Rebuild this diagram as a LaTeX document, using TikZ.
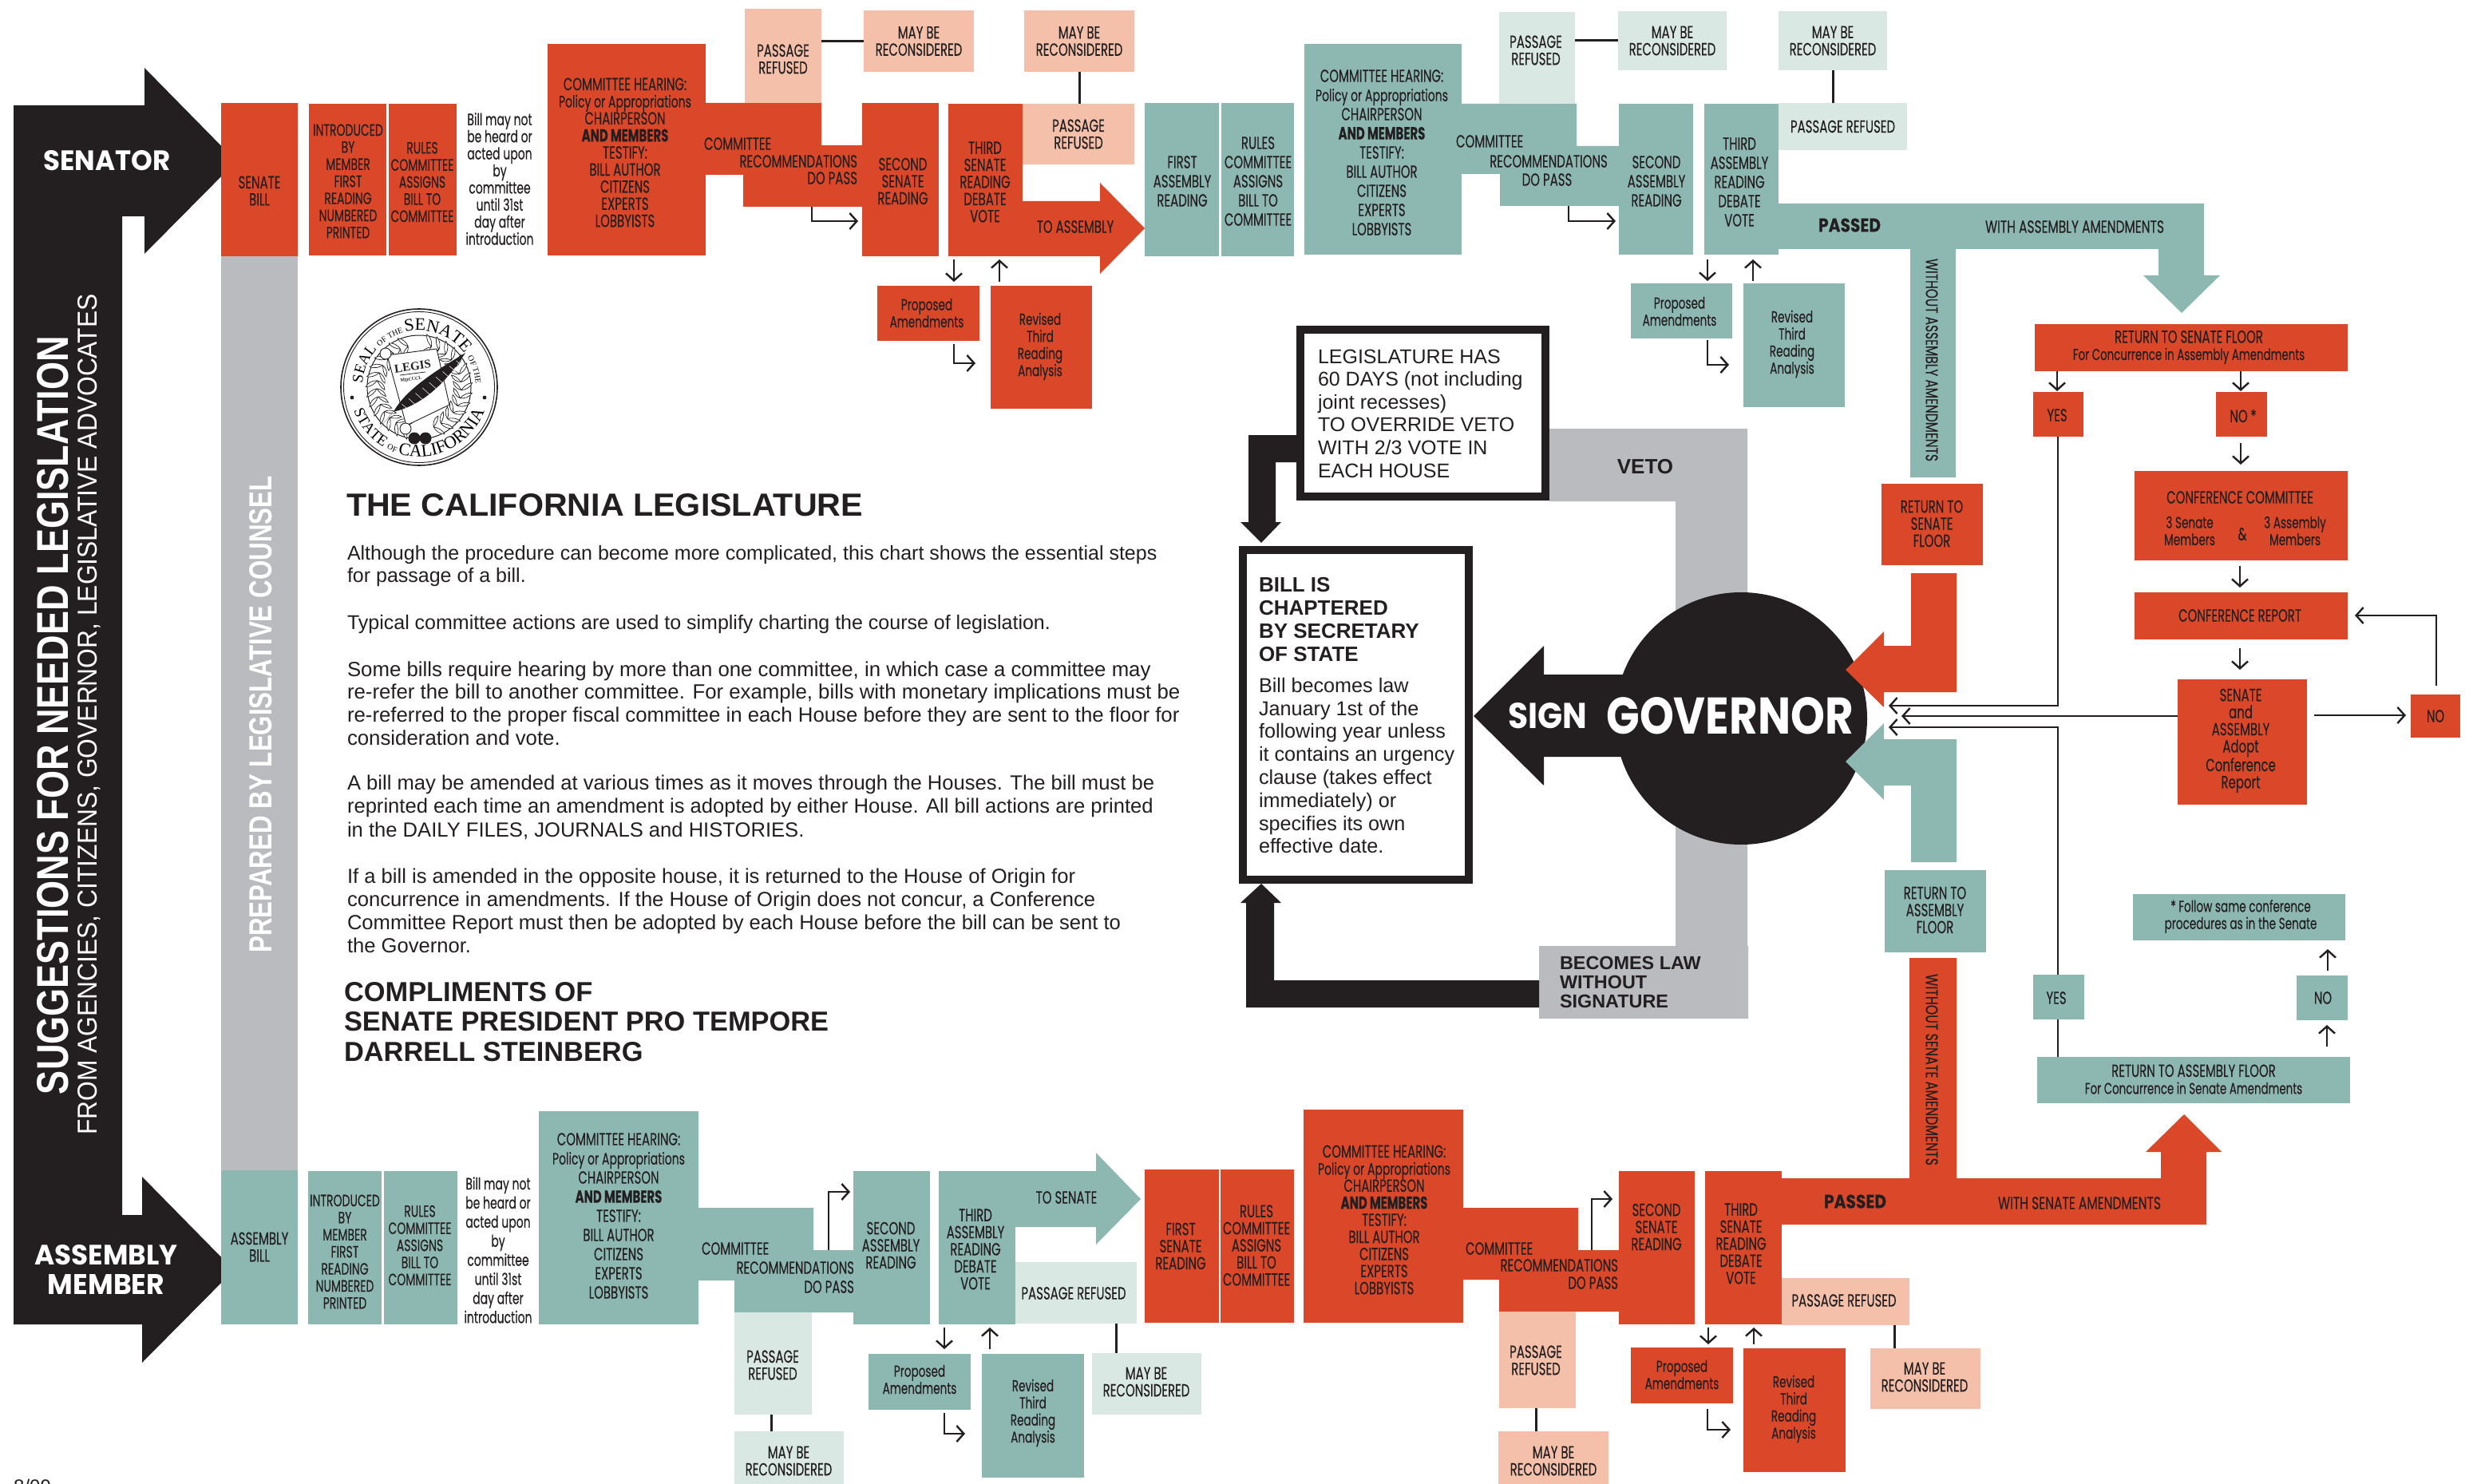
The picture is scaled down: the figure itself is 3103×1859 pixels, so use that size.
\documentclass[tikz,border=0pt]{standalone}
\usepackage{fontspec}
\usepackage{graphicx}
\usetikzlibrary{arrows.meta,calc,decorations.text,shapes.geometric}
\setmainfont{Liberation Sans}
\newfontfamily\fut[FakeStretch=0.68,FakeBold=0.25]{Poppins}
\newfontfamily\futb[FakeStretch=0.68]{Poppins}
\newfontfamily\sealf{Liberation Serif}
\definecolor{ink}{HTML}{231F20}
\definecolor{redb}{HTML}{DA4829}
\definecolor{teal}{HTML}{8DB8B2}
\definecolor{ltteal}{HTML}{DAE8E4}
\definecolor{peach}{HTML}{F4C0A9}
\definecolor{grayb}{HTML}{BABBBF}
\newcommand{\polr}{{\fontsize{20.6}{21}\selectfont Policy or Appropriations}}
\newcommand{\lcs}{\fontsize{19.7}{21}\selectfont}
\tikzset{
 boxn/.style={inner sep=0,outer sep=0,anchor=north west,draw=none},
 txt/.style={inner sep=0,outer sep=0,text=ink,align=center,font=\fut\fontsize{22}{21.4}\selectfont},
 tw/.style={font=\fut\fontsize{22}{24}\selectfont},
 tn/.style={font=\fut\fontsize{20.6}{21.4}\selectfont},
 tnw/.style={font=\fut\fontsize{20.6}{23.9}\selectfont},
 lc/.style={font=\fut\fontsize{20}{21.4}\selectfont},
 lft/.style={align=left,anchor=west},
 rgt/.style={align=right,anchor=east},
 conn/.style={draw=ink,line width=3pt},
 arw/.style={draw=ink,line width=2.6pt,-{Straight Barb[length=9pt,width=20pt,line width=2.4pt]}},
 prose/.style={inner sep=0,outer sep=0,text=ink,align=left,anchor=west,font=\fontsize{25}{28.8}\selectfont},
 head/.style={inner sep=0,outer sep=0,text=ink,align=left,anchor=west,font=\bfseries\fontsize{26}{28.7}\selectfont},
 wlab/.style={inner sep=0,outer sep=0,text=white},
}
\newcommand{\bx}[8][]{%
 \pgfmathsetmacro\bw{#6-#4}\pgfmathsetmacro\bh{#7-#5}%
 \node[boxn,fill=#2,minimum width=\bw pt,minimum height=\bh pt] (#3) at (#4,#5) {};%
 \node[txt,at={(#3.center)},#1] (#3-t) {#8};}
\newcommand{\arr}[5]{\coordinate (#1-a) at (#2,#3);\coordinate (#1-b) at (#4,#5);\draw[arw] (#1-a) -- (#1-b);}
\newcommand{\larr}[7]{\coordinate (#1-a) at (#2,#3);\coordinate (#1-m) at (#4,#5);\coordinate (#1-b) at (#6,#7);\draw[arw] (#1-a) -- (#1-m) -- (#1-b);}
\begin{document}
\begin{tikzpicture}[x=1pt,y=-1pt]
\useasboundingbox (0,0) rectangle (3103,1859);
\fill[white] (0,0) rectangle (3103,1859);
% ---- left big arrow
\fill[ink] (17,132)--(181,132)--(181,85)--(296,202)--(181,318)--(181,271)--(153,271)--(153,1522)--(178,1522)--(178,1474)--(293,1591)--(178,1707)--(178,1659)--(17,1659)--cycle;
\node[wlab] (senator) at (134,201) {\resizebox{159pt}{25pt}{\futb\bfseries SENATOR}};
\node[wlab] (asm1) at (133,1572) {\resizebox{179pt}{25pt}{\futb\bfseries ASSEMBLY}};
\node[wlab] (asm2) at (133,1609) {\resizebox{146pt}{25pt}{\futb\bfseries MEMBER}};
\node[wlab,rotate=90] (sugg) at (66,896) {\resizebox{950pt}{39pt}{\bfseries SUGGESTIONS FOR NEEDED LEGISLATION}};
\node[wlab,rotate=90] (from) at (112,895) {\resizebox{1053pt}{24pt}{FROM AGENCIES, CITIZENS, GOVERNOR, LEGISLATIVE ADVOCATES}};
% ---- grey column
\fill[grayb] (277,321) rectangle (373,1466);
\node[wlab,rotate=90] (prep) at (327,895) {\resizebox{597pt}{28pt}{\bfseries PREPARED BY LEGISLATIVE COUNSEL}};
% ---- senate row bands
\fill[redb] (884,129)--(1029,129)--(1029,182)--(1080,182)--(1080,259)--(931,259)--(931,219)--(884,219)--cycle;
\fill[redb] (1281,252)--(1378,252)--(1378,229)--(1434,286)--(1378,343)--(1378,321)--(1281,321)--cycle;
\fill[teal] (1831,130)--(1975,130)--(1975,183)--(2028,183)--(2028,258)--(1879,258)--(1879,218)--(1831,218)--cycle;
\fill[teal] (2228,255)--(2761,255)--(2761,345)--(2781,345)--(2733,392)--(2685,345)--(2704,345)--(2704,312)--(2450,312)--(2450,598)--(2393,598)--(2393,312)--(2228,312)--cycle;
% ---- assembly row bands
\fill[teal] (875,1513)--(1019,1513)--(1019,1566)--(1069,1566)--(1069,1644)--(920,1644)--(920,1604)--(875,1604)--cycle;
\fill[teal] (1272,1467)--(1373,1467)--(1373,1444)--(1429,1502)--(1373,1559)--(1373,1537)--(1272,1537)--cycle;
\fill[redb] (1833,1513)--(1977,1513)--(1977,1566)--(2028,1566)--(2028,1643)--(1878,1643)--(1878,1603)--(1833,1603)--cycle;
\fill[redb] (2232,1476)--(2392,1476)--(2392,1200)--(2451,1200)--(2451,1476)--(2707,1476)--(2707,1443)--(2688,1443)--(2736,1396)--(2783,1443)--(2764,1443)--(2764,1534)--(2232,1534)--cycle;
% ---- grey veto paths
\fill[grayb] (1941,537)--(2189,537)--(2189,1185)--(2190,1185)--(2190,1276)--(1928,1276)--(1928,1185)--(2099,1185)--(2099,628)--(1941,628)--cycle;
% ---- governor
\fill[ink] (2181,900) circle[radius=158];
\fill[ink] (2040,845)--(1934,845)--(1934,809)--(1846,897)--(1934,984)--(1934,948)--(2040,948)--cycle;
\node[wlab] (sign) at (1939,897) {\resizebox{99pt}{32pt}{\futb\bfseries SIGN}};
\node[wlab] (gov) at (2167,897) {\resizebox{309pt}{46pt}{\futb\bfseries GOVERNOR}};
\fill[redb] (2394,718)--(2451,718)--(2451,867)--(2360,867)--(2360,886)--(2312,839)--(2360,791)--(2360,809)--(2394,809)--cycle;
\fill[teal] (2394,1080)--(2451,1080)--(2451,926)--(2360,926)--(2360,906)--(2312,954)--(2360,1002)--(2360,984)--(2394,984)--cycle;
% ---- senate row, red
\bx[at={(325,239)}]{redb}{sb}{277}{129}{373}{321}{SENATE\\BILL}
\bx[at={(436,227)},tn]{redb}{intro}{387}{130}{484}{320}{INTRODUCED\\BY\\MEMBER\\FIRST\\READING\\NUMBERED\\PRINTED}
\bx[at={(529,228)},tn]{redb}{rules}{487}{130}{572}{320}{RULES\\COMMITTEE\\ASSIGNS\\BILL TO\\COMMITTEE}
\node[txt,tn] (note1) at (626,224) {Bill may not\\be heard or\\acted upon\\by\\committee\\until 31st\\day after\\introduction};
\bx[at={(783,191)}]{redb}{ch}{686}{55}{884}{320}{COMMITTEE HEARING:\\\polr\\CHAIRPERSON\\\textbf{AND MEMBERS}\\TESTIFY:\\BILL AUTHOR\\CITIZENS\\EXPERTS\\LOBBYISTS}
\node[txt,lft] (c1) at (882,180) {COMMITTEE};
\node[txt,rgt] (c2) at (1074,202) {RECOMMENDATIONS};
\node[txt,rgt] (c3) at (1074,223) {DO PASS};
\bx[at={(981,74)}]{peach}{pr1}{933}{11}{1029}{129}{PASSAGE\\REFUSED}
\bx{peach}{mb1}{1082}{13}{1220}{90}{MAY BE\\RECONSIDERED}
\draw[conn] (pr1.east |- mb1.west) -- (mb1.west);
\bx[at={(1131,227)}]{redb}{ss}{1080}{129}{1176}{321}{SECOND\\SENATE\\READING}
\bx[at={(1234,228)}]{redb}{ts}{1188}{130}{1281}{321}{THIRD\\SENATE\\READING\\DEBATE\\VOTE}
\bx{peach}{pr2}{1281}{130}{1421}{206}{PASSAGE\\REFUSED}
\bx{peach}{mb2}{1283}{13}{1421}{90}{MAY BE\\RECONSIDERED}
\draw[conn] (mb2.south) -- (mb2.south |- pr2.north);
\node[txt] (toa) at (1347,284) {TO ASSEMBLY};
\bx[at={(1161,392)},lc]{redb}{pa1}{1099}{358}{1227}{427}{Proposed\\Amendments}
\bx[at={(1303,434)},lc]{redb}{rv1}{1241}{358}{1368}{512}{Revised\\Third\\Reading\\Analysis}
\larr{l1}{1017}{259}{1017}{277}{1075}{277}
\arr{d1}{1195}{325}{1195}{353}
\arr{u1}{1252}{353}{1252}{325}
\larr{l2}{1195}{431}{1195}{455}{1222}{455}
% ---- senate row, teal (assembly house)
\bx[at={(1481,227)},tw]{teal}{fa}{1434}{129}{1527}{321}{FIRST\\ASSEMBLY\\READING}
\bx[at={(1576,227)},tw]{teal}{ra}{1530}{129}{1621}{321}{RULES\\COMMITTEE\\ASSIGNS\\BILL TO\\COMMITTEE}
\bx[at={(1731,191)},tw]{teal}{cha}{1634}{55}{1831}{319}{COMMITTEE HEARING:\\\polr\\CHAIRPERSON\\\textbf{AND MEMBERS}\\TESTIFY:\\BILL AUTHOR\\CITIZENS\\EXPERTS\\LOBBYISTS}
\node[txt,lft] (c4) at (1824,177) {COMMITTEE};
\node[txt] (c5) at (1940,202) {RECOMMENDATIONS};
\node[txt] (c6) at (1938,225) {DO PASS};
\bx[at={(1924,63)}]{ltteal}{pr3}{1878}{15}{1973}{130}{PASSAGE\\REFUSED}
\bx{ltteal}{mb3}{2027}{14}{2163}{88}{MAY BE\\RECONSIDERED}
\draw[conn] (pr3.east |- mb3.west) -- (mb3.west);
\bx[at={(2075,227)},tw]{teal}{sa}{2028}{130}{2121}{319}{SECOND\\ASSEMBLY\\READING}
\bx[at={(2179,228)},tw]{teal}{ta}{2135}{130}{2228}{319}{THIRD\\ASSEMBLY\\READING\\DEBATE\\VOTE}
\bx{ltteal}{pr4}{2228}{129}{2389}{188}{PASSAGE REFUSED}
\bx{ltteal}{mb4}{2228}{14}{2364}{88}{MAY BE\\RECONSIDERED}
\coordinate (mb4s) at (2296,88);\coordinate (pr4n) at (2296,129);
\draw[conn] (mb4s) -- (pr4n);
\node[txt] (pass1) at (2317,282) {\resizebox{78pt}{17pt}{\bfseries PASSED}};
\node[txt] (wa) at (2599,284) {\resizebox{224pt}{15.5pt}{WITH ASSEMBLY AMENDMENTS}};
\node[txt,rotate=-90] (woa) at (2420,451) {\resizebox{254pt}{15pt}{WITHOUT ASSEMBLY AMENDMENTS}};
\bx[at={(2104,390)},lc]{teal}{pa2}{2043}{355}{2170}{424}{Proposed\\Amendments}
\bx[at={(2245,431)},lc]{teal}{rv2}{2184}{355}{2311}{510}{Revised\\Third\\Reading\\Analysis}
\larr{l3}{1965}{258}{1965}{277}{2024}{277}
\arr{d2}{2139}{325}{2139}{352}
\arr{u2}{2196}{352}{2196}{325}
\larr{l4}{2139}{426}{2139}{457}{2166}{457}
% ---- right column
\bx[at={(2742,435)}]{redb}{rsf}{2549}{406}{2941}{465}{RETURN TO SENATE FLOOR\\{\lcs For Concurrence in Assembly Amendments}}
\bx[at={(2577,520)}]{redb}{y1}{2547}{491}{2610}{547}{YES}
\bx[at={(2810,521)}]{redb}{n1}{2776}{491}{2840}{547}{NO\,*}
\bx[at={(2420,656)}]{redb}{rs2}{2357}{606}{2484}{708}{RETURN TO\\SENATE\\FLOOR}
\bx[at={(2806,623)}]{redb}{cc}{2674}{590}{2941}{702}{CONFERENCE COMMITTEE}
\node[txt,lc] (cc1) at (2743,665) {3 Senate\\Members};
\node[txt,lc] (cc2) at (2875,665) {3 Assembly\\Members};
\node[txt] (cc3) at (2809,669) {\&};
\bx[at={(2806,771)}]{redb}{cr}{2674}{742}{2941}{801}{CONFERENCE REPORT}
\bx[at={(2807,928)}]{redb}{sad}{2728}{851}{2890}{1008}{SENATE\\and\\ASSEMBLY\\Adopt\\Conference\\Report}
\bx{redb}{no3}{3020}{870}{3082}{924}{NO}
\bx[at={(2807,1148)},lc]{teal}{fol}{2672}{1120}{2938}{1178}{*\,Follow same conference\\procedures as in the Senate}
\bx[at={(2576,1250)}]{teal}{y2}{2547}{1221}{2611}{1277}{YES}
\bx[at={(2910,1250)}]{teal}{n2}{2877}{1222}{2941}{1278}{NO}
\bx[at={(2748,1352)}]{teal}{raf}{2552}{1324}{2944}{1382}{RETURN TO ASSEMBLY FLOOR\\{\lcs For Concurrence in Senate Amendments}}
\bx[at={(2424,1140)}]{teal}{ra2}{2361}{1090}{2488}{1193}{RETURN TO\\ASSEMBLY\\FLOOR}
\node[txt,rotate=-90] (wos) at (2420,1340) {\resizebox{240pt}{15pt}{WITHOUT SENATE AMENDMENTS}};
\arr{a1}{2577}{465}{2577}{490}
\arr{a2}{2807}{465}{2807}{490}
\arr{a3}{2807}{555}{2807}{582}
\arr{a4}{2806}{709}{2806}{736}
\arr{a5}{2806}{812}{2806}{839}
\arr{a6}{2899}{896}{3014}{896}
\coordinate (nup) at (3052,859);
\coordinate (crin) at (2950,771);
\draw[arw] (nup) |- (crin);
\coordinate (ga) at (2366,884);\coordinate (gb) at (2382,897);\coordinate (gc) at (2366,911);
\coordinate (sj) at (2578,547);\coordinate (tj) at (2578,1221);
\draw[arw] (sj) |- (ga);
\draw[arw] (sad.west |- gb) -- (gb);
\draw[arw] (tj) |- (gc);
\draw[line width=2.6pt,ink] (2578,1277) -- (2578,1324);
\arr{a7}{2915}{1311}{2915}{1284}
\arr{a8}{2916}{1216}{2916}{1189}
% ---- assembly row, teal
\bx[at={(325,1562)}]{teal}{ab}{277}{1466}{373}{1659}{ASSEMBLY\\BILL}
\bx[at={(432,1568)},tn]{teal}{intro2}{386}{1467}{478}{1659}{INTRODUCED\\BY\\MEMBER\\FIRST\\READING\\NUMBERED\\PRINTED}
\bx[at={(526,1560)},tn]{teal}{rules2}{481}{1467}{573}{1659}{RULES\\COMMITTEE\\ASSIGNS\\BILL TO\\COMMITTEE}
\node[txt,tnw] (note2) at (624,1566) {Bill may not\\be heard or\\acted upon\\by\\committee\\until 31st\\day after\\introduction};
\bx[at={(775,1523)},tw]{teal}{ch2}{675}{1392}{875}{1659}{COMMITTEE HEARING:\\\polr\\CHAIRPERSON\\\textbf{AND MEMBERS}\\TESTIFY:\\BILL AUTHOR\\CITIZENS\\EXPERTS\\LOBBYISTS}
\node[txt,lft] (c7) at (879,1564) {COMMITTEE};
\node[txt,rgt] (c8) at (1070,1588) {RECOMMENDATIONS};
\node[txt,rgt] (c9) at (1070,1612) {DO PASS};
\bx[at={(968,1710)}]{ltteal}{pr5}{920}{1644}{1017}{1772}{PASSAGE\\REFUSED}
\bx[at={(988,1830)}]{ltteal}{mb5}{920}{1793}{1057}{1859}{MAY BE\\RECONSIDERED}
\coordinate (p5s) at (966,1772);\coordinate (m5n) at (966,1793);
\draw[conn] (p5s) -- (m5n);
\bx[at={(1116,1560)}]{teal}{sa2}{1069}{1467}{1165}{1659}{SECOND\\ASSEMBLY\\READING}
\bx[at={(1222,1565)}]{teal}{ta2}{1176}{1467}{1272}{1659}{THIRD\\ASSEMBLY\\READING\\DEBATE\\VOTE}
\node[txt] (tos) at (1336,1500) {TO SENATE};
\bx[at={(1345,1620)}]{ltteal}{pr6}{1272}{1581}{1424}{1658}{PASSAGE REFUSED}
\bx[at={(1436,1731)}]{ltteal}{mb6}{1368}{1695}{1505}{1772}{MAY BE\\RECONSIDERED}
\coordinate (p6s) at (1398,1658);\coordinate (m6n) at (1398,1695);
\draw[conn] (p6s) -- (m6n);
\bx[at={(1152,1728)},lc]{teal}{pa3}{1088}{1696}{1216}{1766}{Proposed\\Amendments}
\bx[at={(1294,1770)},lc]{teal}{rv3}{1230}{1696}{1358}{1851}{Revised\\Third\\Reading\\Analysis}
\larr{l5}{1038}{1566}{1038}{1493}{1065}{1493}
\arr{d3}{1183}{1663}{1183}{1690}
\arr{u3}{1240}{1690}{1240}{1663}
\larr{l6}{1183}{1770}{1183}{1796}{1209}{1796}
% ---- assembly row, red
\bx[at={(1479,1561)}]{redb}{fs}{1434}{1465}{1527}{1657}{FIRST\\SENATE\\READING}
\bx[at={(1574,1560)}]{redb}{rs3}{1529}{1465}{1621}{1657}{RULES\\COMMITTEE\\ASSIGNS\\BILL TO\\COMMITTEE}
\bx[at={(1734,1528)}]{redb}{ch3}{1633}{1390}{1833}{1657}{COMMITTEE HEARING:\\\polr\\CHAIRPERSON\\\textbf{AND MEMBERS}\\TESTIFY:\\BILL AUTHOR\\CITIZENS\\EXPERTS\\LOBBYISTS}
\node[txt,lft] (c10) at (1836,1564) {COMMITTEE};
\node[txt,rgt] (c11) at (2027,1585) {RECOMMENDATIONS};
\node[txt,rgt] (c12) at (2027,1607) {DO PASS};
\bx[at={(1924,1704)}]{peach}{pr7}{1878}{1643}{1974}{1764}{PASSAGE\\REFUSED}
\bx[at={(1946,1830)}]{peach}{mb7}{1877}{1793}{2015}{1859}{MAY BE\\RECONSIDERED}
\coordinate (p7s) at (1924,1764);\coordinate (m7n) at (1924,1793);
\draw[conn] (p7s) -- (m7n);
\bx[at={(2075,1537)}]{redb}{ss2}{2028}{1467}{2123}{1659}{SECOND\\SENATE\\READING}
\bx[at={(2181,1558)}]{redb}{ts2}{2136}{1467}{2232}{1659}{THIRD\\SENATE\\READING\\DEBATE\\VOTE}
\bx[at={(2310,1629)}]{peach}{pr8}{2232}{1601}{2392}{1660}{PASSAGE REFUSED}
\bx[at={(2411,1725)}]{peach}{mb8}{2343}{1689}{2481}{1765}{MAY BE\\RECONSIDERED}
\coordinate (p8s) at (2373,1660);\coordinate (m8n) at (2373,1689);
\draw[conn] (p8s) -- (m8n);
\node[txt] (pass2) at (2324,1505) {\resizebox{78pt}{17pt}{\bfseries PASSED}};
\node[txt] (ws) at (2605,1507) {\resizebox{204pt}{15.5pt}{WITH SENATE AMENDMENTS}};
\bx[at={(2107,1722)},lc]{redb}{pa4}{2043}{1688}{2171}{1758}{Proposed\\Amendments}
\bx[at={(2247,1765)},lc]{redb}{rv4}{2184}{1689}{2312}{1844}{Revised\\Third\\Reading\\Analysis}
\larr{l7}{1994}{1566}{1994}{1502}{2020}{1502}
\arr{d4}{2140}{1663}{2140}{1684}
\arr{u4}{2197}{1684}{2197}{1663}
\larr{l8}{2139}{1765}{2139}{1791}{2168}{1791}
% ---- central boxes
\fill[ink] (1624,545)--(1564,545)--(1564,654)--(1554,654)--(1580,680)--(1605,654)--(1598,654)--(1598,579)--(1624,579)--cycle;
\fill[ink] (1928,1228)--(1596,1228)--(1596,1131)--(1605,1131)--(1580,1107)--(1554,1131)--(1561,1131)--(1561,1262)--(1928,1262)--cycle;
\node[boxn,fill=white,draw=ink,line width=10.5pt,minimum width=307pt,minimum height=209pt] (leg) at (1629,413) {};
\node[prose,font=\fontsize{25}{28.6}\selectfont] (legt) at (1651,518) {LEGISLATURE HAS\\60 DAYS (not including\\joint recesses)\\TO OVERRIDE VETO\\WITH 2/3 VOTE IN\\EACH HOUSE};
\node[boxn,fill=white,draw=ink,line width=10.5pt,minimum width=283pt,minimum height=413pt] (chap) at (1557,689) {};
\node[head] (chapb) at (1577,776) {BILL IS\\CHAPTERED\\BY SECRETARY\\OF STATE};
\node[prose,font=\fontsize{25.2}{28.8}\selectfont] (chapt) at (1577,959) {Bill becomes law\\January 1st of the\\following year unless\\it contains an urgency\\clause (takes effect\\immediately) or\\specifies its own\\effective date.};
\node[txt,font=\bfseries\fontsize{26}{26}\selectfont] (veto) at (2061,585) {VETO};
\node[head,font=\bfseries\fontsize{23.4}{24}\selectfont] (bcm) at (1954,1230) {BECOMES LAW\\WITHOUT\\SIGNATURE};
% ---- prose
\node[prose] (title) at (434,633) {\resizebox{647pt}{28pt}{\bfseries THE CALIFORNIA LEGISLATURE}};
\node[prose] (p1) at (435,709) {Although the procedure can become more complicated, this chart shows the essential steps\\for passage of a bill.};
\node[prose] (p2) at (435,782) {Typical committee actions are used to simplify charting the course of legislation.};
\node[prose,font=\fontsize{25.8}{28.8}\selectfont] (p3) at (435,881) {Some bills require hearing by more than one committee, in which case a committee may\\re-refer the bill to another committee. For example, bills with monetary implications must be\\re-referred to the proper fiscal committee in each House before they are sent to the floor for\\consideration and vote.};
\node[prose,font=\fontsize{25.6}{29.4}\selectfont] (p4) at (435,1011) {A bill may be amended at various times as it moves through the Houses. The bill must be\\reprinted each time an amendment is adopted by either House. All bill actions are printed\\in the DAILY FILES, JOURNALS and HISTORIES.};
\node[prose,font=\fontsize{25.6}{28.9}\selectfont] (p5) at (435,1141) {If a bill is amended in the opposite house, it is returned to the House of Origin for\\concurrence in amendments. If the House of Origin does not concur, a Conference\\Committee Report must then be adopted by each House before the bill can be sent to\\the Governor.};
\node[prose,font=\bfseries\fontsize{34.4}{37.5}\selectfont] (comp) at (431,1280) {COMPLIMENTS OF\\SENATE PRESIDENT PRO TEMPORE\\DARRELL STEINBERG};
\node[inner sep=0,text=ink,anchor=north west,font=\fontsize{24}{24}\selectfont] (date) at (17,1853) {8/09};
% ---- seal
\begin{scope}[shift={(525,485)},x=1pt,y=1pt]
 \draw[ink,line width=1.6pt] (0,0) circle[radius=98];
 \draw[ink,line width=0.9pt] (0,0) circle[radius=94.5];
 \draw[ink,line width=1pt] (0,0) circle[radius=65];
 \path[decorate,decoration={text along path,text align=center,text={|\sealf\fontsize{19}{19}\selectfont|SEAL |\sealf\fontsize{10}{10}\selectfont|OF THE |\sealf\fontsize{22}{22}\selectfont|SENATE |\sealf\fontsize{10}{10}\selectfont|OF THE}}] (185:71) arc[start angle=185,end angle=-5,radius=71];
 \path[decorate,decoration={text along path,text align=center,text={|\sealf\fontsize{19}{19}\selectfont|STATE |\sealf\fontsize{10}{10}\selectfont|OF |\sealf\fontsize{22}{22}\selectfont|CALIFORNIA}}] (192:87) arc[start angle=192,end angle=348,radius=87];
 \fill[ink] (-84,-13) circle[radius=2.4];
 \fill[ink] (82,-13) circle[radius=2.4];
 \foreach \a in {105,116,...,250}{
  \draw[ink,line width=.7pt,fill=white,rotate=\a] (53,0) .. controls (56,5) and (60,9) .. (66,10) .. controls (64,4) and (59,1) .. (53,0);
  \draw[ink,line width=.7pt,fill=white,rotate=\a] (53,0) .. controls (50,5) and (46,9) .. (42,10) .. controls (43,4) and (48,1) .. (53,0);
 }
 \foreach \a in {-70,-59,...,75}{
  \draw[ink,line width=.7pt,fill=white,rotate=\a] (53,0) .. controls (56,5) and (60,9) .. (66,10) .. controls (64,4) and (59,1) .. (53,0);
  \draw[ink,line width=.7pt,fill=white,rotate=\a] (53,0) .. controls (50,5) and (46,9) .. (42,10) .. controls (43,4) and (48,1) .. (53,0);
 }
 \draw[ink,line width=.9pt,fill=white] (-40,40)--(22,48)--(38,-22)--(-16,-48)--cycle;
 \draw[ink,line width=.9pt,fill=white] (-42,42) circle[radius=7];
 \draw[ink,line width=.9pt,fill=white] (-17,-52) circle[radius=7];
 \node[inner sep=0,text=ink,rotate=8,font=\sealf\bfseries\fontsize{15}{15}\selectfont] (legis) at (-8,26) {LEGIS};
 \draw[ink,line width=.8pt] (-24,15)--(8,19);
 \node[inner sep=0,text=ink,rotate=8,font=\sealf\bfseries\fontsize{6}{6}\selectfont] (mdc) at (-10,10) {MDCCCL};
 \fill[ink] (-50,-52)--(-33,-31) .. controls (0,-24) and (30,0) .. (58,43) .. controls (20,20) and (-15,-2) .. (-31,-29)--cycle;
 \foreach \t in {0.1,0.2,...,0.9}{
  \draw[white,line width=.5pt] ($(-30,-28)!\t!(55,40)$) -- ++(10,-9);
 }
 \fill[ink] (-6,-64) circle[radius=7.5];
 \fill[ink] (8,-64) circle[radius=7.5];
\end{scope}
\end{tikzpicture}
\end{document}
